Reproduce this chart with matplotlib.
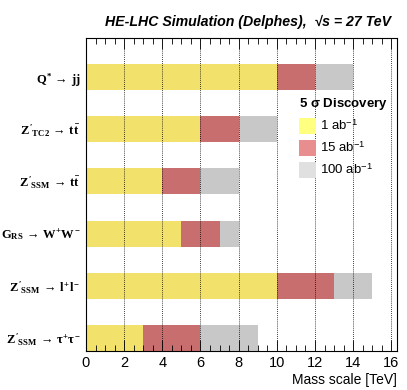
import matplotlib
matplotlib.use('Agg')
import matplotlib.pyplot as plt
from matplotlib.patches import Patch
from matplotlib.ticker import MultipleLocator

# processes from bottom to top
processes = [r"$Z'_{SSM}\,\rightarrow\,\tau^{+}\tau^{-}$",
             r"$Z'_{SSM}\,\rightarrow\,l^{+}l^{-}$",
             r"$G_{RS}\,\rightarrow\,W^{+}W^{-}$",
             r"$Z'_{SSM}\,\rightarrow\,t\bar{t}$",
             r"$Z'_{TC2}\,\rightarrow\,t\bar{t}$",
             r"$Q^{*}\,\rightarrow\,jj$"]
reach_1ab = [3, 10, 5, 4, 6, 10]
reach_15ab = [6, 13, 7, 6, 8, 12]
reach_100ab = [9, 15, 8, 8, 10, 14]
lumi_labels = [r'1 ab$^{\mathregular{-1}}$', r'15 ab$^{\mathregular{-1}}$', r'100 ab$^{\mathregular{-1}}$']

plt.rcParams['mathtext.fontset'] = 'custom'
plt.rcParams['mathtext.rm'] = 'Liberation Serif:bold'
plt.rcParams['mathtext.it'] = 'Liberation Serif:bold'
plt.rcParams['mathtext.bf'] = 'Liberation Serif:bold'
plt.rcParams['font.family'] = ['Liberation Sans', 'DejaVu Sans']

bar_cols = ['#f2e26b', '#c86e6e', '#c8c8c8']
leg_cols = ['#ffff80', '#e88e8e', '#e0e0e0']

fig = plt.figure(figsize=(4.07, 3.90), dpi=100)
ax = fig.add_axes([0.2113, 0.10, 0.7642, 0.8026])

y = list(range(len(processes)))
# draw longest first so shorter ones sit on top
ax.barh(y, reach_100ab, height=0.5, color=bar_cols[2], zorder=1)
ax.barh(y, reach_15ab, height=0.5, color=bar_cols[1], zorder=1)
ax.barh(y, reach_1ab, height=0.5, color=bar_cols[0], zorder=1)

ax.set_xlim(0, 16.3)
ax.set_ylim(-0.25, 5.75)
ax.xaxis.set_major_locator(MultipleLocator(2))
ax.xaxis.set_minor_locator(MultipleLocator(0.5))
ax.grid(axis='x', which='major', color='black', linestyle=(0, (1, 1.5)), linewidth=0.6, zorder=3)
ax.set_axisbelow(False)
ax.tick_params(axis='x', which='major', direction='in', length=8, top=True, labelsize=10.5, width=0.6)
ax.tick_params(axis='x', which='minor', direction='in', length=4, top=True, width=0.6)
ax.set_yticks(y)
ax.set_yticklabels(processes, fontsize=9)
ax.tick_params(axis='y', length=0, pad=4)
for s in ax.spines.values():
    s.set_linewidth(0.8)

ax.set_xlabel('Mass scale [TeV]', fontsize=10, loc='right', labelpad=2)

fig.text(0.961, 0.925, 'HE-LHC Simulation (Delphes),  \u221as = 27 TeV',
         ha='right', va='bottom', fontsize=10.2, fontweight='bold', style='italic')

handles = [Patch(facecolor=c, edgecolor='none') for c in leg_cols]
leg = ax.legend(handles, lumi_labels, title=r'5 $\mathregular{\sigma}$ Discovery',
                loc='upper left', bbox_to_anchor=(0.66, 0.84), frameon=False,
                fontsize=9.5, handlelength=1.25, handleheight=1.5, handletextpad=0.3,
                labelspacing=0.45, alignment='left', borderaxespad=0.2)
leg.get_title().set_fontweight('bold')
leg.get_title().set_fontsize(9.5)

fig.savefig('out.png', dpi=100)
